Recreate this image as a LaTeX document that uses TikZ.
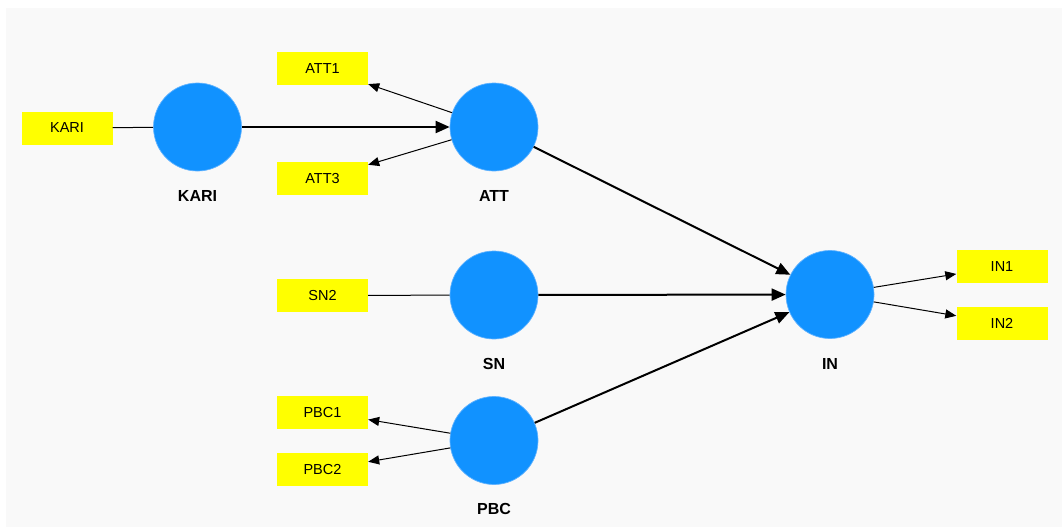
\documentclass[tikz,border=0pt]{standalone}
\usepackage{fontspec}
\setmainfont{Liberation Sans}
\usetikzlibrary{arrows.meta}
\definecolor{canvas}{RGB}{249,249,249}
\definecolor{lvfill}{RGB}{17,146,255}
\definecolor{lvrim}{RGB}{95,178,255}
\definecolor{indfill}{RGB}{255,255,0}
\tikzset{
  latent/.style={circle, fill=lvfill, draw=lvrim, line width=0.7pt, minimum size=88pt, inner sep=0pt},
  indicator/.style={rectangle, fill=indfill, minimum width=91pt, minimum height=33pt, inner sep=0pt, font=\fontsize{14.5}{16}\selectfont},
  lvname/.style={font=\fontsize{16}{18}\selectfont\bfseries},
  path/.style={line width=2pt, -{Triangle[length=14pt, width=12pt]}},
  loading/.style={line width=1pt, -{Triangle[length=11pt, width=9pt]}},
  plainlink/.style={line width=1pt}
}
\begin{document}
\begin{tikzpicture}[x=1pt, y=-1pt]
  \useasboundingbox (0,0) rectangle (1062,528);
  \fill[white] (0,0) rectangle (1062,528);
  \fill[canvas] (6,8) rectangle (1062,527);

  % latent variables
  \node[latent] (kari) at (197.5,127) {};
  \node[latent] (att) at (494,127) {};
  \node[latent] (sn) at (494,295) {};
  \node[latent] (pbc) at (494,440.5) {};
  \node[latent] (in) at (830,294.5) {};

  % their names
  \node[lvname] (karilab) at (197.5,196) {KARI};
  \node[lvname] (attlab) at (494,196) {ATT};
  \node[lvname] (snlab) at (494,364) {SN};
  \node[lvname] (pbclab) at (494,509) {PBC};
  \node[lvname] (inlab) at (830,364) {IN};

  % indicators
  \node[indicator] (kariind) at (67,128) {KARI};
  \node[indicator] (att1) at (322.5,68.5) {ATT1};
  \node[indicator] (att3) at (322.5,178.5) {ATT3};
  \node[indicator] (sn2) at (322.5,295.5) {SN2};
  \node[indicator] (pbc1) at (322.5,412) {PBC1};
  \node[indicator] (pbc2) at (322.5,469.5) {PBC2};
  \node[indicator] (in1) at (1002,266.5) {IN1};
  \node[indicator] (in2) at (1002,323.5) {IN2};

  % measurement links
  \draw[plainlink] (kariind) -- (kari);
  \draw[plainlink] (sn2) -- (sn);
  \draw[loading] (att) -- (att1);
  \draw[loading] (att) -- (att3);
  \draw[loading] (pbc) -- (pbc1);
  \draw[loading] (pbc) -- (pbc2);
  \draw[loading] (in) -- (in1);
  \draw[loading] (in) -- (in2);

  % structural paths
  \draw[path] (kari) -- (att);
  \draw[path] (att) -- (in);
  \draw[path] (sn) -- (in);
  \draw[path] (pbc) -- (in);
\end{tikzpicture}
\end{document}
